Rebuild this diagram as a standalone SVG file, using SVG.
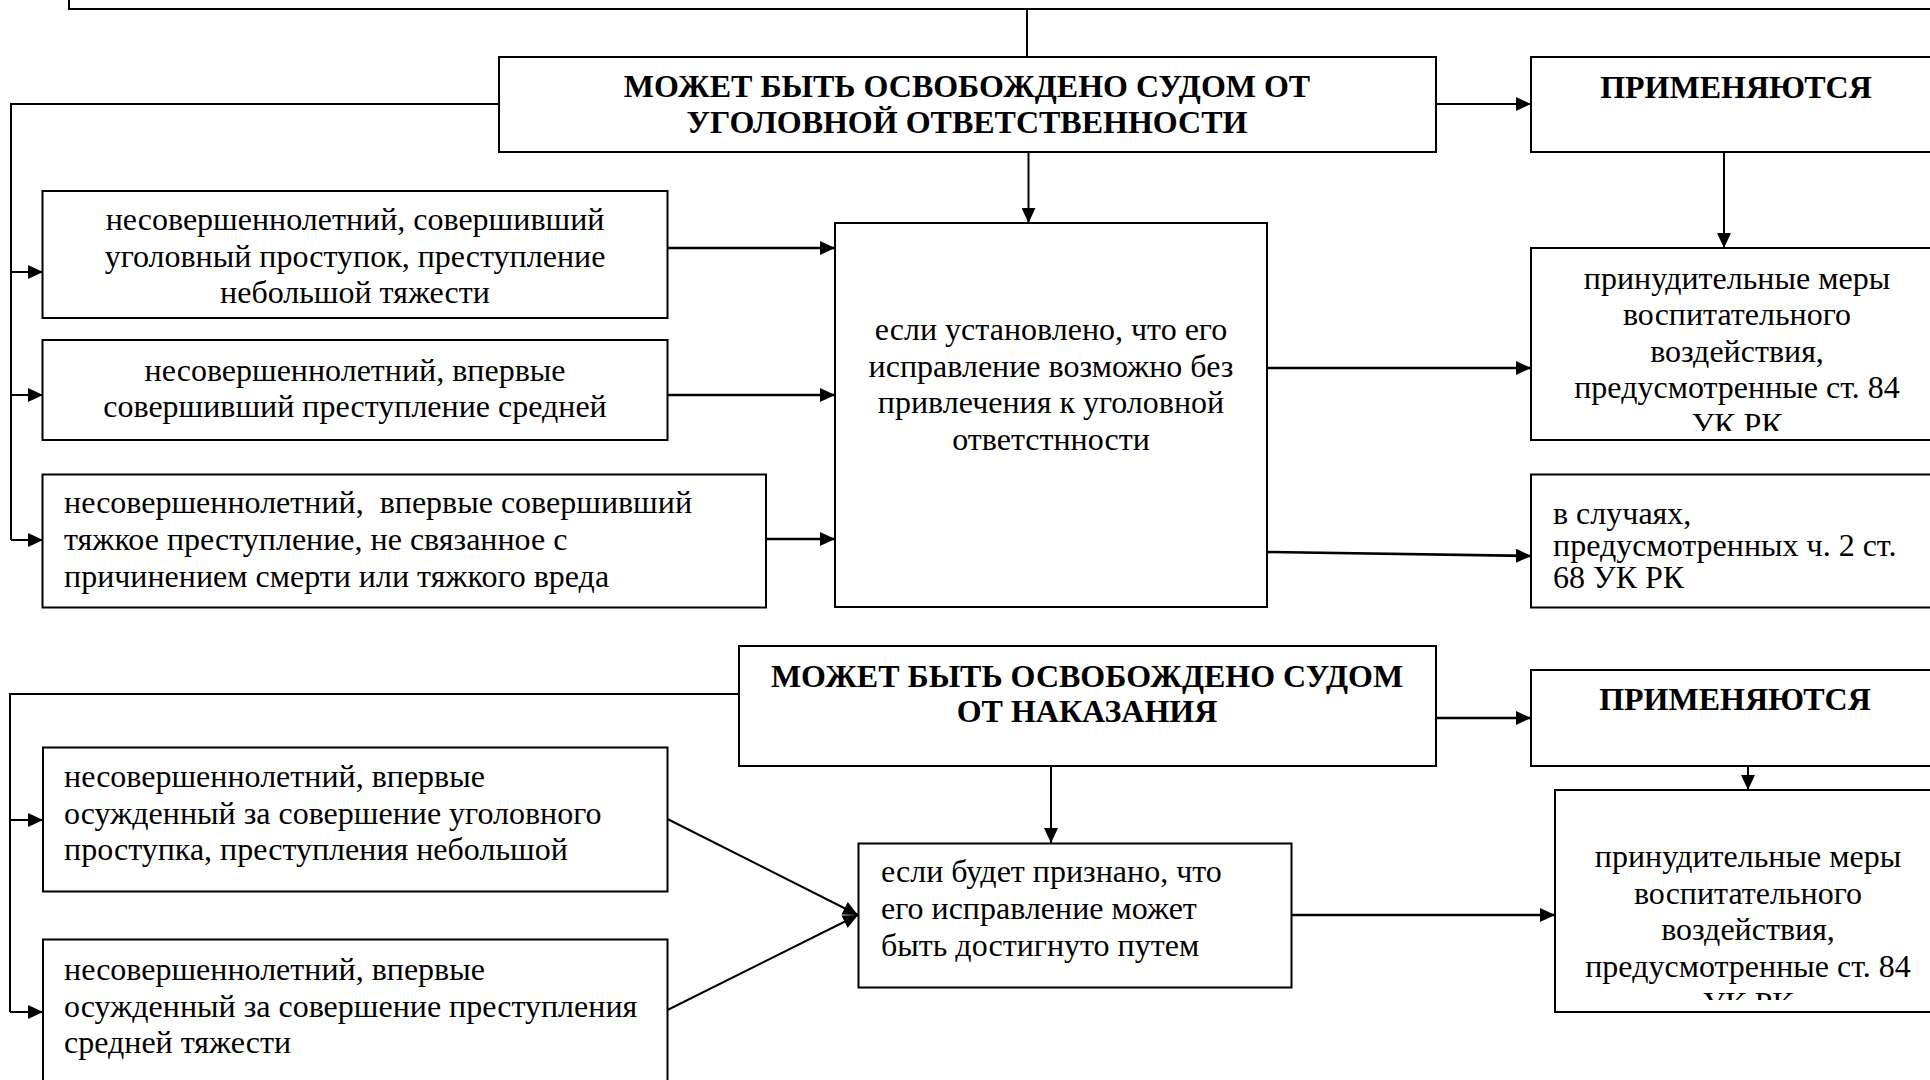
<svg xmlns="http://www.w3.org/2000/svg" width="1930" height="1080" viewBox="0 0 1930 1080">
<style>
.box{fill:#fff;stroke:#000;stroke-width:2}
.t{font-family:"Liberation Serif","Times New Roman",serif;font-size:32px;fill:#000}
.b{font-weight:bold}
.c{text-anchor:middle}
.ln{fill:none;stroke:#000;stroke-width:2}
.th{stroke-width:2.6}
</style>
<defs>
<marker id="ah" markerUnits="userSpaceOnUse" markerWidth="16" markerHeight="14" refX="15" refY="7" orient="auto">
<path d="M0,0 L15,7 L0,14 z" fill="#000"/>
</marker>
<clipPath id="clipP1"><rect x="1531" y="248" width="420" height="183"/></clipPath>
<clipPath id="clipP4"><rect x="1555" y="790" width="400" height="210"/></clipPath>
</defs>

<g id="connectors">
<line class="ln" x1="1027" y1="9" x2="1027" y2="57"/>
<polyline class="ln" points="499,104 11,104 11,540"/>
<line class="ln" x1="11" y1="272" x2="43" y2="272" marker-end="url(#ah)"/>
<line class="ln" x1="11" y1="395" x2="43" y2="395" marker-end="url(#ah)"/>
<line class="ln" x1="11" y1="540" x2="43" y2="540" marker-end="url(#ah)"/>
<line class="ln" x1="1028.5" y1="152" x2="1028.5" y2="223" marker-end="url(#ah)"/>
<line class="ln" x1="1436" y1="104" x2="1531" y2="104" marker-end="url(#ah)"/>
<line class="ln" x1="1724" y1="152" x2="1724" y2="248" marker-end="url(#ah)"/>
<line class="ln th" x1="667" y1="248" x2="835" y2="248" marker-end="url(#ah)"/>
<line class="ln th" x1="667" y1="395" x2="835" y2="395" marker-end="url(#ah)"/>
<line class="ln th" x1="766" y1="539" x2="835" y2="539" marker-end="url(#ah)"/>
<line class="ln th" x1="1267" y1="368" x2="1531" y2="368" marker-end="url(#ah)"/>
<line class="ln th" x1="1267" y1="552" x2="1531" y2="556" marker-end="url(#ah)"/>

<polyline class="ln" points="739,694 10,694 10,1012"/>
<line class="ln" x1="10" y1="820" x2="43" y2="820" marker-end="url(#ah)"/>
<line class="ln" x1="10" y1="1012" x2="43" y2="1012" marker-end="url(#ah)"/>
<line class="ln" x1="1051" y1="766" x2="1051" y2="843" marker-end="url(#ah)"/>
<line class="ln th" x1="1436" y1="718" x2="1531" y2="718" marker-end="url(#ah)"/>
<line class="ln" x1="1748" y1="766" x2="1748" y2="790" marker-end="url(#ah)"/>
<line class="ln" x1="667.5" y1="819" x2="858" y2="915" marker-end="url(#ah)"/>
<line class="ln" x1="667.5" y1="1010" x2="858" y2="915" marker-end="url(#ah)"/>
<line class="ln th" x1="1291.5" y1="915" x2="1555" y2="915" marker-end="url(#ah)"/>
</g>

<g id="top-box">
<rect class="box" x="69" y="-20" width="1900" height="29"/>
</g>

<g id="main1">
<rect class="box" x="499" y="57" width="937" height="95"/>
<text class="t b c" x="967" y="97">МОЖЕТ БЫТЬ ОСВОБОЖДЕНО СУДОМ ОТ</text>
<text class="t b c" x="967" y="133">УГОЛОВНОЙ ОТВЕТСТВЕННОСТИ</text>
</g>

<g id="apply1">
<rect class="box" x="1531" y="57" width="420" height="95"/>
<text class="t b c" x="1736" y="98">ПРИМЕНЯЮТСЯ</text>
</g>

<g id="a1">
<rect class="box" x="42.5" y="191" width="625" height="127"/>
<text class="t c" x="355" y="230">несовершеннолетний, совершивший</text>
<text class="t c" x="355" y="266.5">уголовный проступок, преступление</text>
<text class="t c" x="355" y="303">небольшой тяжести</text>
</g>

<g id="a2">
<rect class="box" x="42.5" y="340" width="625" height="100"/>
<text class="t c" x="355" y="381">несовершеннолетний, впервые</text>
<text class="t c" x="355" y="417">совершивший преступление средней</text>
</g>

<g id="a3">
<rect class="box" x="42.5" y="474.5" width="723.5" height="133"/>
<text class="t" x="64" y="513" xml:space="preserve">несовершеннолетний,  впервые совершивший</text>
<text class="t" x="64" y="550">тяжкое преступление, не связанное с</text>
<text class="t" x="64" y="586.5">причинением смерти или тяжкого вреда</text>
</g>

<g id="center1">
<rect class="box" x="835" y="223" width="432" height="384"/>
<text class="t c" x="1051" y="340">если установлено, что его</text>
<text class="t c" x="1051" y="376.5">исправление возможно без</text>
<text class="t c" x="1051" y="413">привлечения к уголовной</text>
<text class="t c" x="1051" y="449.5">ответстнности</text>
</g>

<g id="p1">
<rect class="box" x="1531" y="248" width="420" height="192"/>
<g clip-path="url(#clipP1)">
<text class="t c" x="1737" y="288.5">принудительные меры</text>
<text class="t c" x="1737" y="325">воспитательного</text>
<text class="t c" x="1737" y="361.5">воздействия,</text>
<text class="t c" x="1737" y="398">предусмотренные ст. 84</text>
<text class="t c" x="1737" y="434.5">УК РК</text>
</g>
</g>

<g id="p2">
<rect class="box" x="1531" y="474.5" width="420" height="133"/>
<text class="t" x="1553" y="524">в случаях,</text>
<text class="t" x="1553" y="556">предусмотренных ч. 2 ст.</text>
<text class="t" x="1553" y="588">68 УК РК</text>
</g>

<g id="main2">
<rect class="box" x="739" y="646" width="697" height="120"/>
<text class="t b c" x="1087" y="687">МОЖЕТ БЫТЬ ОСВОБОЖДЕНО СУДОМ</text>
<text class="t b c" x="1087" y="722">ОТ НАКАЗАНИЯ</text>
</g>

<g id="apply2">
<rect class="box" x="1531" y="670" width="420" height="96"/>
<text class="t b c" x="1735" y="710">ПРИМЕНЯЮТСЯ</text>
</g>

<g id="b1">
<rect class="box" x="43" y="747.5" width="624.5" height="144"/>
<text class="t" x="64" y="787">несовершеннолетний, впервые</text>
<text class="t" x="64" y="823.5">осужденный за совершение уголовного</text>
<text class="t" x="64" y="860">проступка, преступления небольшой</text>
</g>

<g id="b2">
<rect class="box" x="43" y="939.5" width="624.5" height="180"/>
<text class="t" x="64" y="980">несовершеннолетний, впервые</text>
<text class="t" x="64" y="1016.5">осужденный за совершение преступления</text>
<text class="t" x="64" y="1053">средней тяжести</text>
</g>

<g id="center2">
<rect class="box" x="858.5" y="843.5" width="433" height="144"/>
<text class="t" x="881" y="882">если будет признано, что</text>
<text class="t" x="881" y="919">его исправление может</text>
<text class="t" x="881" y="956">быть достигнуто путем</text>
</g>

<g id="p4">
<rect class="box" x="1555" y="790" width="400" height="222"/>
<g clip-path="url(#clipP4)">
<text class="t c" x="1748" y="867">принудительные меры</text>
<text class="t c" x="1748" y="903.5">воспитательного</text>
<text class="t c" x="1748" y="940">воздействия,</text>
<text class="t c" x="1748" y="977">предусмотренные ст. 84</text>
<text class="t c" x="1748" y="1013.5">УК РК</text>
</g>
</g>
</svg>
